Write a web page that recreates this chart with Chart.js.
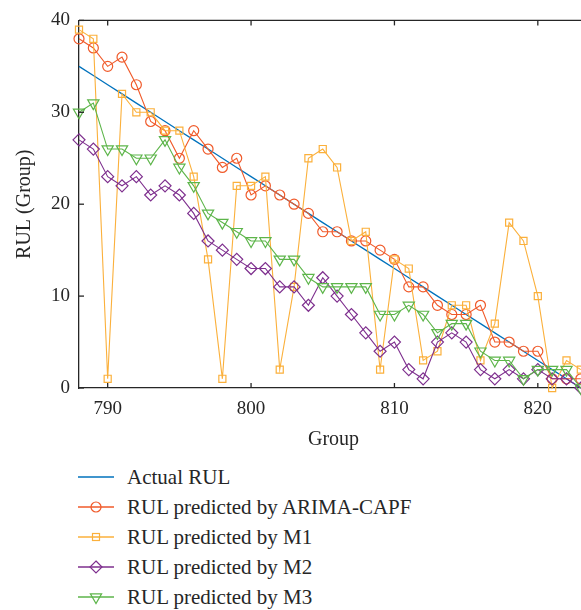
<!DOCTYPE html>
<html><head><meta charset="utf-8">
<script src="https://cdn.jsdelivr.net/npm/chart.js@4.4.1/dist/chart.umd.min.js"></script>
<style>
html,body{margin:0;padding:0;background:#fff;overflow:hidden;width:581px;height:610px;}
#wrap{position:absolute;left:0;top:0;width:600px;height:460px;}
#legend{position:absolute;left:78px;top:0;font-family:"Liberation Serif","Times New Roman",serif;font-size:21px;color:#262626;}
.row{position:absolute;left:0;height:30px;display:flex;align-items:center;white-space:nowrap;}
.row svg{margin-right:13px;flex:none;}
</style></head>
<body>
<div id="wrap"><canvas id="c" width="600" height="460"></canvas></div>
<div id="legend"></div>
<script>
const groups = [788,789,790,791,792,793,794,795,796,797,798,799,800,801,802,803,804,805,806,807,808,809,810,811,812,813,814,815,816,817,818,819,820,821,822,823];
const actualRUL = [35,34,33,32,31,30,29,28,27,26,25,24,23,22,21,20,19,18,17,16,15,14,13,12,11,10,9,8,7,6,5,4,3,2,1,0];
const arimaCapf = [38,37,35,36,33,29,28,25,28,26,24,25,21,22,21,20,19,17,17,16,16,15,14,11,11,9,8,8,9,5,5,4,4,1,1,1];
const m1 = [39,38,1,32,30,30,28,28,23,14,1,22,22,23,2,11,25,26,24,16,17,2,14,13,3,4,9,9,3,7,18,16,10,0,3,2];
const m2 = [27,26,23,22,23,21,22,21,19,16,15,14,13,13,11,11,9,12,10,8,6,4,5,2,1,5,6,5,2,1,2,1,2,1,1,0];
const m3 = [30,31,26,26,25,25,27,24,22,19,18,17,16,16,14,14,12,11,11,11,11,8,8,9,8,6,7,7,4,3,3,1,2,2,2,0];
const xTickValues = [790,800,810,820];
const yTickValues = [0,10,20,30,40];
const seriesNames = ['Actual RUL','RUL predicted by ARIMA-CAPF','RUL predicted by M1','RUL predicted by M2','RUL predicted by M3'];

const colors = ['#0072BD','#F05A2A','#FBB03B','#7E2F8E','#5DB54A'];
const styles = [
  {pointStyle:false, radius:0, rot:0},
  {pointStyle:'circle', radius:5, rot:0},
  {pointStyle:'rect', radius:5, rot:0},
  {pointStyle:'rectRot', radius:6, rot:0},
  {pointStyle:'triangle', radius:6.5, rot:180}
];
const seriesValues = [actualRUL, arimaCapf, m1, m2, m3];

const FONT = '"Liberation Serif","Times New Roman",serif';
const TXT = '#262626';

const datasets = seriesValues.map((vals, i) => ({
  label: seriesNames[i],
  data: groups.map((g, k) => ({x: g, y: vals[k]})),
  borderColor: colors[i],
  backgroundColor: colors[i],
  borderWidth: i === 0 ? 1.3 : 1.1,
  pointStyle: styles[i].pointStyle,
  pointRadius: styles[i].radius,
  pointRotation: styles[i].rot,
  pointBorderColor: colors[i],
  pointBackgroundColor: 'rgba(0,0,0,0)',
  pointBorderWidth: 1.2,
  tension: 0,
  clip: false,
  order: 5 - i
}));

const frame = {
  id: 'frame',
  afterDraw(chart) {
    const {ctx, chartArea: {left, top, bottom, right}, scales: {x, y}} = chart;
    ctx.save();
    ctx.strokeStyle = TXT;
    ctx.lineWidth = 1.3;
    const seg = (a, b, c, d) => { ctx.beginPath(); ctx.moveTo(a, b); ctx.lineTo(c, d); ctx.stroke(); };
    seg(left, top, right, top);
    seg(right, top, right, bottom);
    x.ticks.forEach(t => { const p = x.getPixelForValue(t.value); seg(p, bottom, p, bottom - 5); seg(p, top, p, top + 5); });
    y.ticks.forEach(t => { const p = y.getPixelForValue(t.value); seg(left, p, left + 5, p); });
    ctx.restore();
  }
};

new Chart(document.getElementById('c'), {
  type: 'line',
  data: {datasets},
  options: {
    responsive: false,
    animation: false,
    layout: {padding: {top: 19, right: 12, left: 0, bottom: 0}},
    plugins: {legend: {display: false}, tooltip: {enabled: false}},
    scales: {
      x: {
        type: 'linear', min: 788, max: 823.5,
        afterBuildTicks: s => { s.ticks = xTickValues.map(v => ({value: v})); },
        afterFit: s => { s.height = 72; },
        grid: {display: false, drawTicks: false},
        border: {display: true, color: TXT, width: 1.3},
        ticks: {font: {family: FONT, size: 19}, color: TXT, padding: 10, maxRotation: 0, autoSkip: false},
        title: {display: true, text: 'Group', font: {family: FONT, size: 20}, color: TXT, padding: {top: 0, bottom: 8}}
      },
      y: {
        type: 'linear', min: 0, max: 40,
        afterBuildTicks: s => { s.ticks = yTickValues.map(v => ({value: v})); },
        afterFit: s => { s.width = 79; },
        grid: {display: false, drawTicks: false},
        border: {display: true, color: TXT, width: 1.3},
        ticks: {font: {family: FONT, size: 19}, color: TXT, padding: 9},
        title: {display: true, text: 'RUL (Group)', font: {family: FONT, size: 20}, color: TXT, padding: {top: 13, bottom: 0}}
      }
    }
  },
  plugins: [frame]
});

// HTML legend
const legend = document.getElementById('legend');
function markerSvg(i) {
  const c = colors[i];
  let m = '';
  if (i === 1) m = `<circle cx="18" cy="10" r="5" fill="none" stroke="${c}" stroke-width="1.2"/>`;
  if (i === 2) m = `<rect x="14.5" y="6.5" width="7" height="7" fill="none" stroke="${c}" stroke-width="1.2"/>`;
  if (i === 3) m = `<polygon points="18,4 24,10 18,16 12,10" fill="none" stroke="${c}" stroke-width="1.2"/>`;
  if (i === 4) m = `<polygon points="12.4,6.8 23.6,6.8 18,16.5" fill="none" stroke="${c}" stroke-width="1.2"/>`;
  return `<svg width="36" height="20" viewBox="0 0 36 20"><line x1="0" y1="10" x2="36" y2="10" stroke="${c}" stroke-width="1.3"/>${m}</svg>`;
}
seriesNames.forEach((name, i) => {
  const row = document.createElement('div');
  row.className = 'row';
  row.style.top = (462 + i * 30) + 'px';
  row.innerHTML = markerSvg(i) + '<span>' + name + '</span>';
  legend.appendChild(row);
});
</script>
</body></html>
